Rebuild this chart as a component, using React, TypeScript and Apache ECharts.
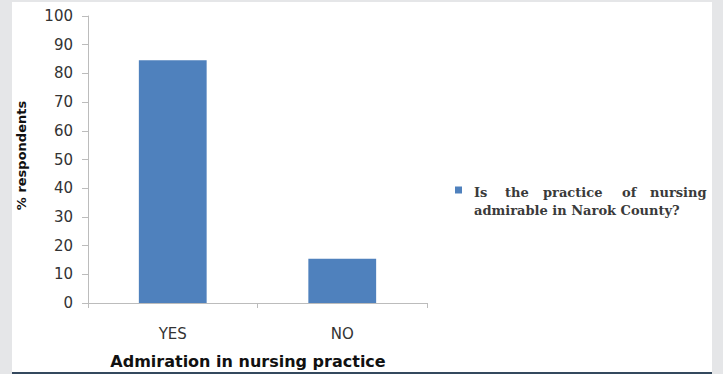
import React, { useEffect, useRef } from "react";
import * as echarts from "echarts";

// Survey answers and the share of respondents for each
const categories: string[] = ["YES", "NO"];
const percentValues: number[] = [84.6, 15.4];
const seriesName = "Is the practice of nursing admirable in Narok County?";
const yTicks = { min: 0, max: 100, interval: 10 };

const W = 723;
const H = 374;

const legendFont = {
  fontFamily: "DejaVu Serif",
  fontWeight: "bold" as const,
  fontSize: 13,
  color: "#3a3a3a",
  lineHeight: 18,
};

export default function App() {
  const ref = useRef<HTMLDivElement>(null);

  useEffect(() => {
    if (!ref.current) return;
    const chart = echarts.init(ref.current, undefined, { renderer: "svg" });
    const axisGray = "#bcbcbc";
    const textDark = "#333333";

    chart.setOption({
      animation: false,
      backgroundColor: "#e5e6e8",
      textStyle: { fontFamily: "DejaVu Sans" },
      graphic: [
        {
          type: "rect",
          z: -10,
          silent: true,
          shape: { x: 12, y: 2, width: 700, height: 370 },
          style: { fill: "#ffffff" },
        },
        {
          type: "rect",
          z: -10,
          silent: true,
          shape: { x: 12, y: 372, width: 700, height: 2 },
          style: { fill: "#34495e" },
        },
      ],
      grid: { left: 88, right: 296, top: 16, bottom: 71, containLabel: false },
      legend: {
        show: true,
        left: 455,
        top: 161,
        padding: 0,
        orient: "vertical",
        icon: "rect",
        itemWidth: 7,
        itemHeight: 7,
        selectedMode: false,
        data: [seriesName],
        // words of the first line spread across the column
        formatter: () =>
          "{a|Is}{b|the}{c|practice}{d|of}{e|nursing}\n{f|admirable in Narok County?}",
        textStyle: {
          ...legendFont,
          padding: [22, 0, 0, 7],
          rich: {
            a: { ...legendFont, width: 31 },
            b: { ...legendFont, width: 38 },
            c: { ...legendFont, width: 79 },
            d: { ...legendFont, width: 28 },
            e: { ...legendFont },
            f: { ...legendFont },
          },
        },
      },
      xAxis: {
        type: "category",
        data: categories,
        name: "Admiration in nursing practice",
        nameLocation: "middle",
        nameGap: 50,
        nameTextStyle: {
          fontFamily: "DejaVu Sans",
          fontWeight: "bold",
          fontSize: 16,
          color: "#111111",
          padding: [0, 19, 0, 0],
        },
        axisLine: { lineStyle: { color: axisGray, width: 1 } },
        axisTick: { show: true, length: 5, lineStyle: { color: axisGray } },
        axisLabel: {
          margin: 23,
          fontFamily: "DejaVu Sans",
          fontSize: 15,
          color: textDark,
        },
        splitLine: { show: false },
      },
      yAxis: {
        type: "value",
        min: yTicks.min,
        max: yTicks.max,
        interval: yTicks.interval,
        name: "% respondents",
        nameLocation: "middle",
        nameGap: 60,
        nameTextStyle: {
          fontFamily: "DejaVu Sans",
          fontWeight: "bold",
          fontSize: 13,
          color: "#111111",
          padding: [0, 0, 0, 8],
        },
        axisLine: { show: true, lineStyle: { color: axisGray, width: 1 } },
        axisTick: { show: true, length: 6, lineStyle: { color: axisGray } },
        axisLabel: {
          margin: 15,
          fontFamily: "DejaVu Sans",
          fontSize: 15,
          color: textDark,
        },
        splitLine: { show: false },
      },
      series: [
        {
          name: seriesName,
          type: "bar",
          data: percentValues,
          barWidth: "40%",
          itemStyle: { color: "#4f81bd" },
        },
      ],
    });

    return () => chart.dispose();
  }, []);

  return (
    <div
      ref={ref}
      style={{ position: "fixed", left: 0, top: 0, width: W, height: H }}
    />
  );
}
